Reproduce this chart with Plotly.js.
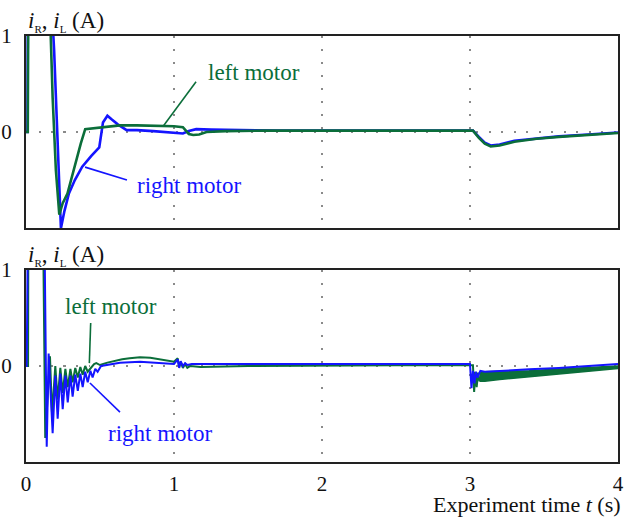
<!DOCTYPE html>
<html>
<head>
<meta charset="utf-8">
<script src="https://cdn.plot.ly/plotly-3.0.1.min.js"></script>
<style>
html,body{margin:0;padding:0;background:#fff;}
#chart{width:625px;height:517px;}
</style>
</head>
<body>
<div id="chart"></div>
<script>
// ---------- data ----------
// top panel, left motor (green)
var topLeftT = [0, 0.012, 0.016, 0.157, 0.18, 0.202, 0.225, 0.248, 0.28, 0.31, 0.34, 0.37, 0.4, 0.45, 0.5, 0.56, 0.635, 0.75, 0.9, 1.0, 1.06, 1.1, 1.13, 1.17, 1.22, 1.35, 1.6, 2.0, 2.5, 2.9, 3.02, 3.06, 3.1, 3.14, 3.2, 3.3, 3.45, 3.6, 3.8, 4.0];
var topLeftI = [0, 0, 1.5, 1.5, 0.36, -0.4, -0.86, -0.74, -0.64, -0.46, -0.29, -0.12, 0.03, 0.04, 0.045, 0.06, 0.07, 0.07, 0.065, 0.06, 0.05, -0.02, -0.03, -0.025, 0.0, 0.01, 0.015, 0.015, 0.015, 0.015, 0.015, -0.06, -0.12, -0.15, -0.14, -0.1, -0.07, -0.05, -0.03, -0.01];
// top panel, right motor (blue)
var topRightT = [0, 0.01, 0.013, 0.168, 0.19, 0.212, 0.236, 0.26, 0.29, 0.33, 0.38, 0.44, 0.495, 0.52, 0.55, 0.58, 0.62, 0.68, 0.75, 0.86, 0.96, 1.06, 1.1, 1.15, 1.25, 1.4, 1.7, 2.0, 2.5, 2.9, 3.02, 3.06, 3.1, 3.14, 3.2, 3.3, 3.45, 3.6, 3.8, 4.0];
var topRightI = [0, 0, 1.5, 1.5, 0.85, -0.1, -1.0, -0.82, -0.64, -0.5, -0.36, -0.25, -0.16, 0.1, 0.17, 0.13, 0.08, 0.02, 0.02, 0.01, 0.0, -0.015, 0.01, 0.03, 0.025, 0.02, 0.015, 0.015, 0.015, 0.015, 0.015, -0.05, -0.11, -0.14, -0.13, -0.09, -0.065, -0.045, -0.025, -0.005];
// bottom panel, left motor (green)
var botLeftT = [0, 0.014, 0.016, 0.115, 0.13, 0.162, 0.176, 0.198, 0.214, 0.232, 0.248, 0.266, 0.282, 0.3, 0.315, 0.333, 0.35, 0.367, 0.383, 0.4, 0.417, 0.44, 0.46, 0.475, 0.5, 0.55, 0.6, 0.65, 0.7, 0.77, 0.84, 0.9, 0.95, 1.0, 1.025, 1.035, 1.045, 1.06, 1.075, 1.09, 1.11, 1.18, 1.5, 2.0, 2.5, 2.99, 3.02, 3.028, 3.036, 3.045, 3.055, 3.065];
var botLeftI = [0, 0, 1.5, 1.5, -0.75, 0.1, -0.5, 0.0, -0.35, -0.02, -0.28, -0.03, -0.22, -0.03, -0.17, -0.02, -0.12, -0.01, -0.09, 0.0, -0.06, -0.02, 0.02, 0.03, 0.01, 0.035, 0.055, 0.07, 0.08, 0.09, 0.085, 0.07, 0.055, 0.045, 0.08, -0.01, 0.04, -0.02, 0.02, -0.02, 0.0, -0.01, 0.0, 0.005, 0.007, 0.007, 0.007, -0.27, -0.06, -0.22, -0.07, -0.16];
// bottom panel, left motor oscillation band after t = 3 s (lower / upper edge)
var bandT = [3.065, 3.1, 3.2, 3.4, 3.6, 3.8, 4.0];
var bandLow = [-0.16, -0.16, -0.14, -0.11, -0.08, -0.05, -0.025];
var bandHigh = [-0.07, -0.06, -0.055, -0.05, -0.03, -0.015, 0.0];
// bottom panel, right motor (blue)
var botRightT = [0, 0.004, 0.006, 0.013, 0.124, 0.14, 0.153, 0.18, 0.198, 0.214, 0.232, 0.248, 0.266, 0.282, 0.3, 0.315, 0.333, 0.35, 0.367, 0.383, 0.4, 0.417, 0.435, 0.45, 0.468, 0.484, 0.507, 0.57, 0.635, 0.77, 0.95, 1.0, 1.025, 1.035, 1.045, 1.06, 1.075, 1.09, 1.12, 1.2, 1.6, 2.0, 2.5, 3.0, 3.01, 3.02, 3.03, 3.04, 3.05, 3.07, 3.1, 3.2, 3.4, 3.6, 3.83, 4.0];
var botRightI = [0, 0, 0.2, 1.5, 1.5, -0.84, 0.13, -0.7, -0.1, -0.55, -0.08, -0.45, -0.1, -0.38, -0.1, -0.32, -0.09, -0.26, -0.08, -0.22, -0.06, -0.17, -0.05, -0.12, -0.03, -0.06, 0.0, 0.02, 0.035, 0.045, 0.03, 0.02, 0.07, -0.02, 0.05, 0.0, 0.03, 0.01, 0.02, 0.02, 0.02, 0.02, 0.02, 0.02, -0.23, -0.05, -0.18, -0.06, -0.12, -0.05, -0.06, -0.05, -0.035, -0.02, 0.003, 0.02];
var xTicks = [0, 1, 2, 3, 4];
var xTickText = ['0', '1', '2', '3', '4'];
var yTicks = [0, 1];
var yTickText = ['0', '1'];

// ---------- styling ----------
var GREEN = '#0b6e3a';
var BLUE = '#1414ff';
var FONT = 'Liberation Serif, Times New Roman, serif';

var traces = [
  {x: topRightT, y: topRightI, xaxis: 'x', yaxis: 'y', mode: 'lines', line: {color: BLUE, width: 2.6}, hoverinfo: 'skip'},
  {x: topLeftT, y: topLeftI, xaxis: 'x', yaxis: 'y', mode: 'lines', line: {color: GREEN, width: 2.6}, hoverinfo: 'skip'},
  {x: botLeftT, y: botLeftI, xaxis: 'x2', yaxis: 'y2', mode: 'lines', line: {color: GREEN, width: 2}, hoverinfo: 'skip'},
  {x: bandT, y: bandLow, xaxis: 'x2', yaxis: 'y2', mode: 'lines', line: {color: GREEN, width: 1.5}, hoverinfo: 'skip'},
  {x: bandT, y: bandHigh, xaxis: 'x2', yaxis: 'y2', mode: 'lines', fill: 'tonexty', fillcolor: GREEN, line: {color: GREEN, width: 1.5}, hoverinfo: 'skip'},
  {x: botRightT, y: botRightI, xaxis: 'x2', yaxis: 'y2', mode: 'lines', line: {color: BLUE, width: 2}, hoverinfo: 'skip'}
];

function xAxis(anchor, labels) {
  return {
    domain: [0, 1], anchor: anchor, range: [0, 4],
    tickmode: 'array', tickvals: xTicks, ticktext: xTickText,
    showticklabels: labels, ticks: '', ticklabelstandoff: 2,
    showgrid: true, gridcolor: '#8a8a8a', gridwidth: 2, griddash: '2px,11px',
    zeroline: false, showline: true, mirror: true, linecolor: '#222', linewidth: 2,
    tickfont: {family: FONT, size: 21, color: '#111'}, fixedrange: true
  };
}
function yAxis(anchor, domain) {
  return {
    domain: domain, anchor: anchor, range: [-1, 1],
    tickmode: 'array', tickvals: yTicks, ticktext: yTickText,
    ticks: '', ticklabelstandoff: 8,
    showgrid: true, gridcolor: '#8a8a8a', gridwidth: 2, griddash: '2px,10.5px',
    zeroline: false, showline: true, mirror: true, linecolor: '#222', linewidth: 2,
    tickfont: {family: FONT, size: 21, color: '#111'}, fixedrange: true
  };
}

var ann = function (text, x, y, xref, yref, color, anchor, size) {
  return {text: text, x: x, y: y, xref: xref, yref: yref, showarrow: false,
    xanchor: anchor || 'center', yanchor: 'middle', borderpad: 0,
    font: {family: FONT, size: size || 23, color: color}};
};

var yTitle = '<i>i</i><sub><span style="font-size:11px">R</span></sub>, <i>i</i><sub><span style="font-size:11px">L</span></sub> (A)';

var layout = {
  width: 625, height: 517,
  margin: {l: 26, r: 7, t: 36, b: 55, pad: 0},
  paper_bgcolor: '#fff', plot_bgcolor: '#fff',
  showlegend: false,
  xaxis: xAxis('y', false),
  yaxis: yAxis('x', [0.549, 1]),
  xaxis2: xAxis('y2', true),
  yaxis2: yAxis('x2', [0, 0.4507]),
  annotations: [
    ann(yTitle, 0.0017, 1.078, 'paper', 'y domain', '#111', 'left', 23),
    ann(yTitle, 0.0017, 1.078, 'paper', 'y2 domain', '#111', 'left', 23),
    ann('left motor', 1.54, 0.615, 'x', 'y', GREEN),
    ann('right motor', 1.098, -0.552, 'x', 'y', BLUE),
    ann('left motor', 0.574, 0.615, 'x2', 'y2', GREEN),
    ann('right motor', 0.902, -0.698, 'x2', 'y2', BLUE),
    ann('Experiment time <i>t</i> (s)', 1.0068, -0.099, 'paper', 'paper', '#111', 'right', 22)
  ],
  shapes: [
    {type: 'line', xref: 'x', yref: 'y', x0: 1.149, y0: 0.524, x1: 0.928, y1: 0.0625, line: {color: GREEN, width: 1.6}},
    {type: 'line', xref: 'x', yref: 'y', x0: 0.399, y0: -0.365, x1: 0.682, y1: -0.5, line: {color: BLUE, width: 1.6}},
    {type: 'line', xref: 'x2', yref: 'y2', x0: 0.437, y0: 0.448, x1: 0.428, y1: 0.03, line: {color: GREEN, width: 1.6}},
    {type: 'line', xref: 'x2', yref: 'y2', x0: 0.432, y0: -0.177, x1: 0.635, y1: -0.48, line: {color: BLUE, width: 1.6}}
  ]
};

Plotly.newPlot('chart', traces, layout, {displayModeBar: false, staticPlot: true});
</script>
</body>
</html>
